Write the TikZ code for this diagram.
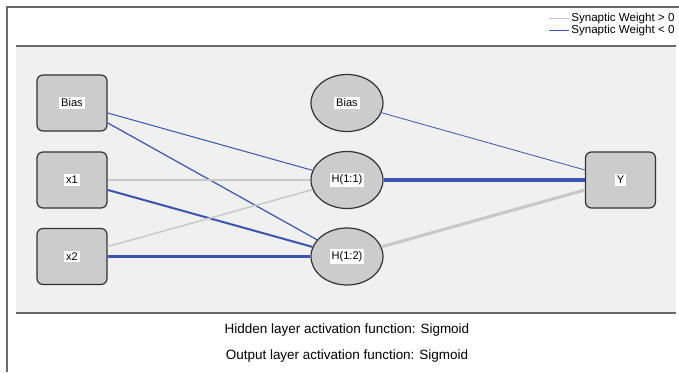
\documentclass[tikz,border=0pt]{standalone}
\usepackage{fontspec}
\setmainfont{Liberation Sans}
\usetikzlibrary{shapes.geometric}
\definecolor{negw}{RGB}{58,84,176}
\definecolor{posw}{RGB}{200,200,200}
\definecolor{nodefill}{RGB}{204,204,204}
\definecolor{panelfill}{RGB}{240,240,240}
\definecolor{framegray}{RGB}{105,105,105}
\setlength{\fboxsep}{1.5pt}
\newcommand{\lbl}[1]{\colorbox{white}{#1}}

\begin{document}
\begin{tikzpicture}[x=0.75pt, y=-0.75pt,
    unitbox/.style={draw=black!80, fill=nodefill, rounded corners=4.5pt,
      minimum width=52.5pt, minimum height=42pt, line width=0.9pt,
      font=\fontsize{8.3}{10}\selectfont},
    unitoval/.style={ellipse, draw=black!80, fill=nodefill,
      minimum width=54pt, minimum height=42.75pt, line width=0.9pt,
      font=\fontsize{8.3}{10}\selectfont},
    posw/.style={draw=posw},
    negw/.style={draw=negw},
    legtext/.style={anchor=west, inner sep=0pt, font=\fontsize{8.7}{10}\selectfont},
    footer/.style={font=\fontsize{10.1}{12}\selectfont}]
  \useasboundingbox (0,0) rectangle (679,372);

  % frame and panel
  \fill[panelfill] (16,46) rectangle (676,313);
  \draw[framegray, line width=1.1pt] (16,46) -- (676,46);
  \draw[framegray, line width=1.1pt] (16,313) -- (676,313);
  \draw[framegray, line width=0.9pt] (7,372) -- (7,7) -- (679,7);

  % legend
  \coordinate (lp1) at (549,18);
  \coordinate (lp2) at (569,18);
  \coordinate (ln1) at (549,30);
  \coordinate (ln2) at (569,30);
  \draw[posw, line width=0.7pt] (lp1) -- (lp2);
  \draw[negw, line width=0.7pt] (ln1) -- (ln2);
  \node[legtext] (legpos) at (571,18) {Synaptic Weight > 0};
  \node[legtext] (legneg) at (571,30) {Synaptic Weight < 0};

  % input layer
  \node[unitbox] (b_in) at (72,103) {\lbl{Bias}};
  \node[unitbox] (x1) at (72,180) {\lbl{x1}};
  \node[unitbox] (x2) at (72,256.5) {\lbl{x2}};

  % hidden layer
  \node[unitoval] (b_h) at (347,103) {\lbl{Bias}};
  \node[unitoval] (h11) at (347,180) {\lbl{H(1:1)}};
  \node[unitoval] (h12) at (347,256.5) {\lbl{H(1:2)}};

  % output layer
  \node[unitbox] (y) at (620.5,180) {\lbl{Y}};

  % weights
  \draw[negw, line width=0.75pt] (b_in) -- (h11);
  \draw[negw, line width=0.9pt] (b_in) -- (h12);
  \draw[posw, line width=0.8pt] (x1) -- (h11);
  \draw[negw, line width=1.5pt] (x1) -- (h12);
  \draw[posw, line width=1.1pt] (x2) -- (h11);
  \draw[negw, line width=2pt] (x2) -- (h12);
  \draw[negw, line width=0.6pt] (b_h) -- (y);
  \draw[negw, line width=2.3pt] (h11) -- (y);
  \draw[posw, line width=2.3pt] (h12) -- (y);

  % activation functions
  \node[footer] (hidact) at (347,330) {Hidden layer activation function: Sigmoid};
  \node[footer] (outact) at (347,356) {Output layer activation function: Sigmoid};
\end{tikzpicture}
\end{document}
